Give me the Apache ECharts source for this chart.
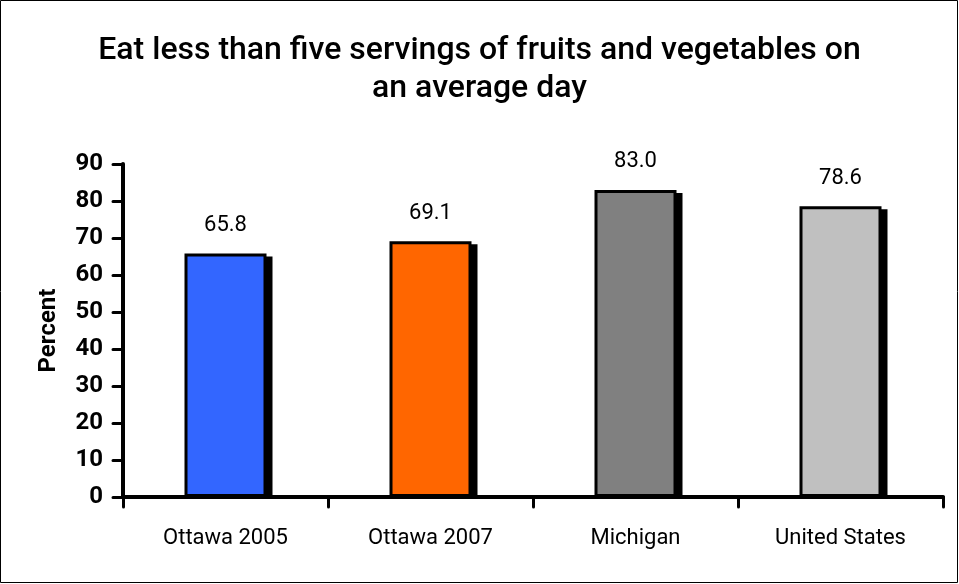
<!DOCTYPE html>
<html><head><meta charset="utf-8">
<script src="https://cdn.jsdelivr.net/npm/echarts@6/dist/echarts.min.js"></script>
<style>html,body{margin:0;padding:0;background:#fff}#c{width:959px;height:584px}</style>
</head><body><div id="c"></div>
<script>
const categories = ['Ottawa 2005', 'Ottawa 2007', 'Michigan', 'United States'];
const values = [65.8, 69.1, 83.0, 78.6];
const colors = ['#3366FF', '#FF6600', '#808080', '#C0C0C0'];
const yTicks = [0, 10, 20, 30, 40, 50, 60, 70, 80, 90];
const titleText = 'Eat less than five servings of fruits and vegetables on\nan average day';
const FONT = 'Roboto, "Liberation Sans", sans-serif';

const chart = echarts.init(document.getElementById('c'));
chart.setOption({
  animation: false,
  title: {
    text: titleText, left: 'center', top: 27,
    textStyle: { fontFamily: FONT, fontSize: 32, fontWeight: 500, color: '#000', lineHeight: 38 }
  },
  graphic: [{
    type: 'rect', shape: { x: 0.5, y: 0.5, width: 957, height: 582 },
    style: { fill: 'none', stroke: '#000', lineWidth: 1 }, silent: true
  }],
  grid: { left: 123, right: 16, top: 164, bottom: 87 },
  xAxis: {
    type: 'category', data: categories,
    axisLine: { lineStyle: { color: '#000', width: 4 } },
    axisTick: { show: true, length: 10, lineStyle: { width: 3, color: '#000', cap: 'round' } },
    axisLabel: { fontFamily: FONT, fontSize: 22, color: '#000', margin: 30 }
  },
  yAxis: {
    type: 'value', min: 0, max: 90, interval: 10,
    name: 'Percent', nameLocation: 'middle', nameGap: 62, nameRotate: 90,
    nameTextStyle: { fontFamily: FONT, fontSize: 24, fontWeight: 'bold', color: '#000' },
    axisLine: { show: true, lineStyle: { color: '#000', width: 4 } },
    axisTick: { show: true, length: 10, lineStyle: { width: 3, color: '#000', cap: 'round' } },
    splitLine: { show: false },
    axisLabel: { fontFamily: FONT, fontSize: 24, fontWeight: 'bold', color: '#000', margin: 20,
      formatter: v => yTicks.includes(v) ? String(v) : '' }
  },
  series: [{
    type: 'custom', z: 1, silent: true,
    data: values.map((v, i) => [i, v]),
    renderItem: (params, api) => {
      const top = api.coord([api.value(0), api.value(1)]);
      const base = api.coord([api.value(0), 0]);
      const w = api.size([1, 0])[0] * 0.4;
      return {
        type: 'rect',
        shape: { x: top[0] - w / 2 + 6, y: top[1] + 3, width: w, height: base[1] - top[1] - 3 },
        style: { fill: '#000' }
      };
    }
  }, {
    type: 'bar', barWidth: '40%', z: 2,
    data: values.map((v, i) => ({ value: v, itemStyle: { color: colors[i] } })),
    itemStyle: { borderColor: '#000', borderWidth: 3 },
    label: { show: true, position: 'top', distance: 17, fontFamily: FONT, fontSize: 22, color: '#000',
      formatter: p => p.value.toFixed(1) }
  }]
});
</script></body></html>
